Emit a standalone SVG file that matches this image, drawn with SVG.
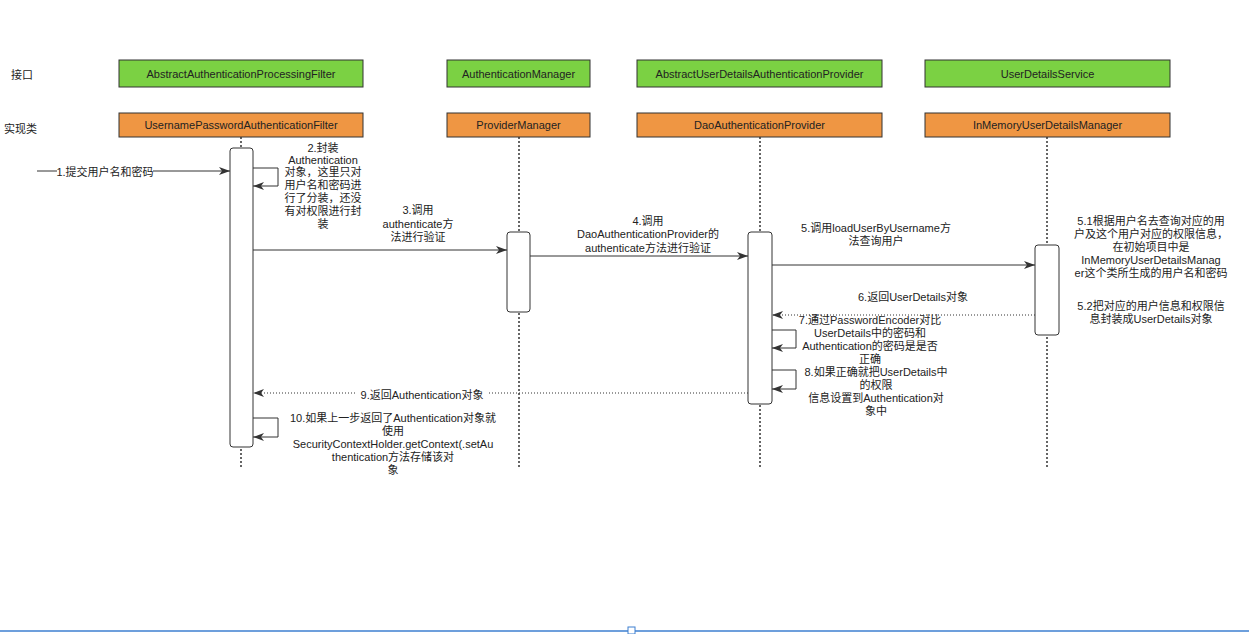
<svg xmlns="http://www.w3.org/2000/svg" width="1249" height="634" viewBox="0 0 1249 634">
<defs>
<style>
text{font-family:"Liberation Sans","Noto Sans CJK SC",sans-serif;font-size:11px;fill:#222;text-anchor:middle}
.lbl{text-anchor:start}
.g{fill:#7bd143;stroke:#333;stroke-width:1}
.o{fill:#ef9643;stroke:#333;stroke-width:1}
.life{stroke:#333;stroke-width:1.5;stroke-dasharray:2 2;fill:none}
.act{fill:#fff;stroke:#333;stroke-width:1}
.msg{stroke:#333;stroke-width:1;fill:none;marker-end:url(#arr)}
.ret{stroke:#333;stroke-width:1;stroke-dasharray:1 2;fill:none;marker-end:url(#arr)}
.bg{fill:#fff}
</style>
<marker id="arr" markerWidth="12" markerHeight="8" refX="11" refY="4" orient="auto" markerUnits="userSpaceOnUse">
<path d="M0,0 L11,4 L0,8 L3,4 Z" fill="#333"/>
</marker>
</defs>
<rect width="1249" height="634" fill="#fff"/>
<text class="lbl" x="11" y="79">接口</text>
<text class="lbl" x="4" y="133">实现类</text>

<g id="lifelines">
<line class="life" x1="241" y1="137" x2="241" y2="467"/>
<line class="life" x1="519" y1="137" x2="519" y2="467"/>
<line class="life" x1="760" y1="137" x2="760" y2="467"/>
<line class="life" x1="1047" y1="137" x2="1047" y2="467"/>
</g>

<g id="node-filter-if"><rect class="g" x="119" y="60" width="244" height="27"/><text x="241" y="77.5">AbstractAuthenticationProcessingFilter</text></g>
<g id="node-manager-if"><rect class="g" x="447" y="60" width="143" height="27"/><text x="518.5" y="77.5">AuthenticationManager</text></g>
<g id="node-provider-if"><rect class="g" x="637" y="60" width="245" height="27"/><text x="759.5" y="77.5">AbstractUserDetailsAuthenticationProvider</text></g>
<g id="node-uds-if"><rect class="g" x="925" y="60" width="245" height="27"/><text x="1047.5" y="77.5">UserDetailsService</text></g>

<g id="node-filter"><rect class="o" x="119" y="113" width="244" height="24"/><text x="241" y="129">UsernamePasswordAuthenticationFilter</text></g>
<g id="node-manager"><rect class="o" x="447" y="113" width="143" height="24"/><text x="518.5" y="129">ProviderManager</text></g>
<g id="node-provider"><rect class="o" x="637" y="113" width="245" height="24"/><text x="759.5" y="129">DaoAuthenticationProvider</text></g>
<g id="node-uds"><rect class="o" x="925" y="113" width="245" height="24"/><text x="1047.5" y="129">InMemoryUserDetailsManager</text></g>

<g id="act-filter"><rect class="act" x="230" y="148" width="23" height="299" rx="3"/></g>
<g id="act-manager"><rect class="act" x="507" y="232" width="23" height="80" rx="3"/></g>
<g id="act-provider"><rect class="act" x="748" y="232" width="24" height="172" rx="3"/></g>
<g id="act-uds"><rect class="act" x="1035" y="245" width="24" height="90" rx="3"/></g>

<g id="connectors">
<line class="msg" x1="37" y1="171" x2="230" y2="171"/>
<rect class="bg" x="57" y="164" width="96" height="14"/>
<text x="105" y="175.5">1.提交用户名和密码</text>

<path class="msg" d="M253,168 H278 V186 H253"/>
<text x="323" y="152">2.封装</text>
<text x="323" y="164">Authentication</text>
<text x="323" y="176">对象，这里只对</text>
<text x="323" y="189">用户名和密码进</text>
<text x="323" y="202">行了分装，还没</text>
<text x="323" y="215">有对权限进行封</text>
<text x="323" y="228">装</text>

<line class="msg" x1="253" y1="250" x2="507" y2="250"/>
<text x="418" y="214">3.调用</text>
<text x="418" y="228">authenticate方</text>
<text x="418" y="241">法进行验证</text>

<line class="msg" x1="530" y1="256" x2="748" y2="256"/>
<text x="648" y="225">4.调用</text>
<text x="648" y="238">DaoAuthenticationProvider的</text>
<text x="648" y="252">authenticate方法进行验证</text>

<line class="msg" x1="772" y1="265" x2="1035" y2="265"/>
<text x="876" y="232">5.调用loadUserByUsername方</text>
<text x="876" y="245">法查询用户</text>

<text x="1151" y="225">5.1根据用户名去查询对应的用</text>
<text x="1151" y="238">户及这个用户对应的权限信息，</text>
<text x="1151" y="251">在初始项目中是</text>
<text x="1151" y="264">InMemoryUserDetailsManag</text>
<text x="1151" y="277">er这个类所生成的用户名和密码</text>
<text x="1151" y="310">5.2把对应的用户信息和权限信</text>
<text x="1151" y="323">息封装成UserDetails对象</text>

<line class="ret" x1="1035" y1="315" x2="772" y2="315"/>
<text x="913" y="301">6.返回UserDetails对象</text>

<path class="msg" d="M772,330 H796 V348 H772"/>
<text x="870" y="324">7.通过PasswordEncoder对比</text>
<text x="870" y="337">UserDetails中的密码和</text>
<text x="870" y="350">Authentication的密码是是否</text>
<text x="870" y="363">正确</text>

<path class="msg" d="M772,370 H796 V389 H772"/>
<text x="876" y="376">8.如果正确就把UserDetails中</text>
<text x="876" y="389">的权限</text>
<text x="876" y="402">信息设置到Authentication对</text>
<text x="876" y="415">象中</text>

<line class="ret" x1="748" y1="393" x2="253" y2="393"/>
<rect class="bg" x="357" y="388" width="130" height="14"/>
<text x="422" y="399">9.返回Authentication对象</text>

<path class="msg" d="M253,418 H278 V437 H253"/>
<text x="393" y="422">10.如果上一步返回了Authentication对象就</text>
<text x="393" y="435">使用</text>
<text x="393" y="448">SecurityContextHolder.getContext(.setAu</text>
<text x="393" y="461">thentication方法存储该对</text>
<text x="393" y="474">象</text>
</g>

<g id="page-edge">
<line x1="0" y1="631" x2="1249" y2="631" stroke="#3c7fd0" stroke-width="1.5"/>
<rect x="628" y="627" width="7" height="7" fill="#fff" stroke="#3c7fd0" stroke-width="1"/>
</g>
</svg>
